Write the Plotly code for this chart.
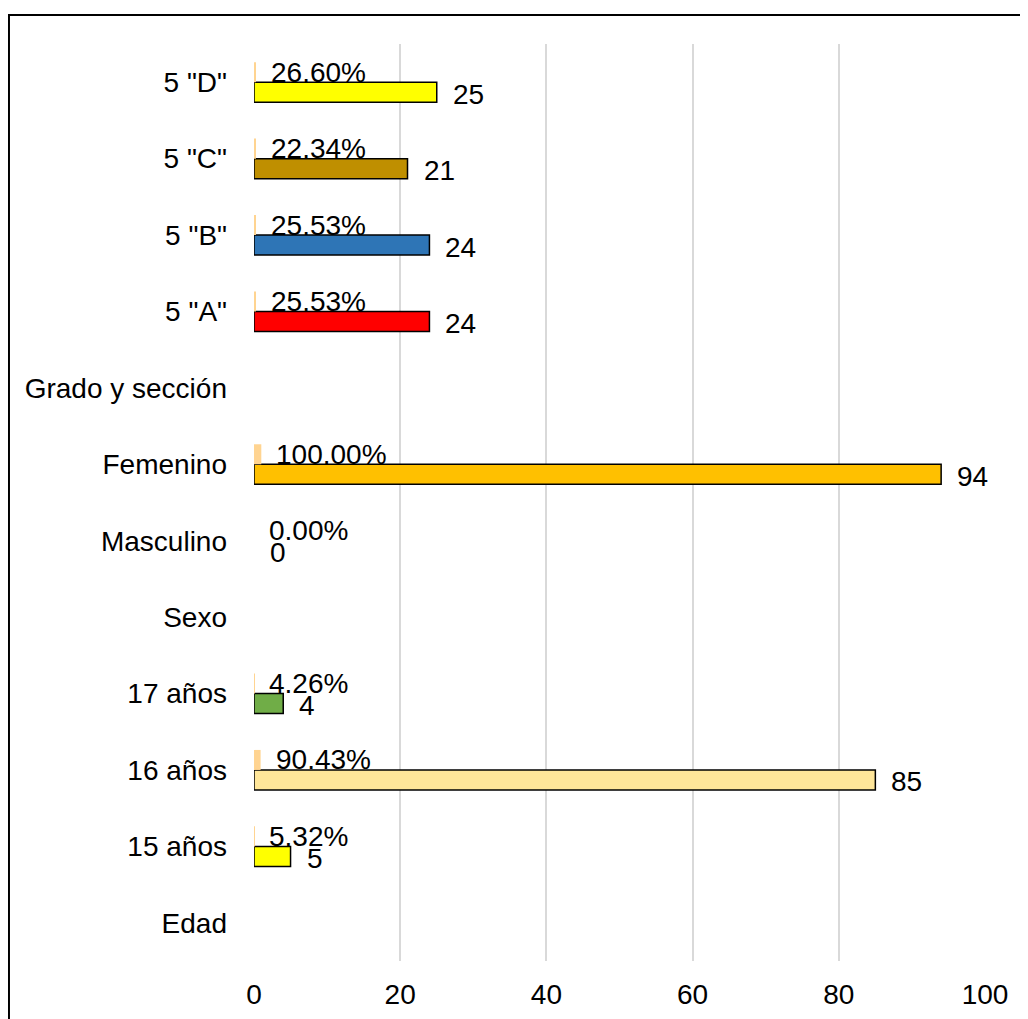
import plotly.graph_objects as go

# Categories, bottom to top
categories = ["Edad", "15 años", "16 años", "17 años", "Sexo", "Masculino",
              "Femenino", "Grado y sección", '5 "A"', '5 "B"', '5 "C"', '5 "D"']
counts = [None, 5, 85, 4, None, 0, 94, None, 24, 24, 21, 25]
percents = [None, 0.0532, 0.9043, 0.0426, None, 0.0, 1.0, None, 0.2553, 0.2553, 0.2234, 0.2660]
count_colors = ["#FFFFFF", "#FFFF00", "#FFE699", "#70AD47", "#FFFFFF", "#FFC000",
                "#FFC000", "#FFFFFF", "#FF0000", "#2E75B6", "#BF8F00", "#FFFF00"]
percent_color = "#FFD491"
x_ticks = [0, 20, 40, 60, 80, 100]

FONT = "Liberation Sans, Arial, sans-serif"
FS = 28

outline_widths = [0 if (c is None or c == 0) else 1.5 for c in counts]

fig = go.Figure()
fig.add_trace(go.Bar(
    y=categories, x=counts, orientation="h", name="Cantidad",
    marker=dict(color=count_colors, line=dict(color="#000000", width=outline_widths)),
))
fig.add_trace(go.Bar(
    y=categories, x=percents, orientation="h", name="Porcentaje",
    marker=dict(color=percent_color, line=dict(width=0)),
))

annotations = []
for cat, c, p in zip(categories, counts, percents):
    if p is not None:
        annotations.append(dict(x=p, y=cat, xref="x", yref="y", text=f"{p*100:.2f}%",
                                showarrow=False, xanchor="left", yanchor="middle",
                                xshift=13, yshift=10,
                                font=dict(family=FONT, size=FS, color="#000000")))
    if c is not None:
        annotations.append(dict(x=c, y=cat, xref="x", yref="y", text=str(c),
                                showarrow=False, xanchor="left", yanchor="middle",
                                xshift=14, yshift=-12,
                                font=dict(family=FONT, size=FS, color="#000000")))

fig.update_layout(
    width=1028, height=1019,
    margin=dict(l=246, r=51, t=36, b=66),
    paper_bgcolor="#FFFFFF", plot_bgcolor="#FFFFFF",
    barmode="group", bargap=0.476, bargroupgap=0,
    showlegend=False,
    font=dict(family=FONT, size=FS, color="#000000"),
    annotations=annotations,
    shapes=[dict(type="rect", xref="paper", yref="paper",
                 x0=-0.3352, x1=1.2, y0=-0.3, y1=1.0316,
                 line=dict(color="#000000", width=2), fillcolor="rgba(0,0,0,0)",
                 layer="above")],
)
fig.update_xaxes(range=[0, 100], tickvals=x_ticks, showgrid=True,
                 gridcolor="#D9D9D9", gridwidth=1.5, zeroline=False,
                 showline=False, ticks="", ticklabelstandoff=14,
                 tickfont=dict(family=FONT, size=FS, color="#000000"))
fig.update_yaxes(type="category", categoryorder="array", categoryarray=categories,
                 showgrid=False, zeroline=False, showline=False, ticks="",
                 ticklabelstandoff=26,
                 tickfont=dict(family=FONT, size=FS, color="#000000"))

fig.write_html("out.html")
